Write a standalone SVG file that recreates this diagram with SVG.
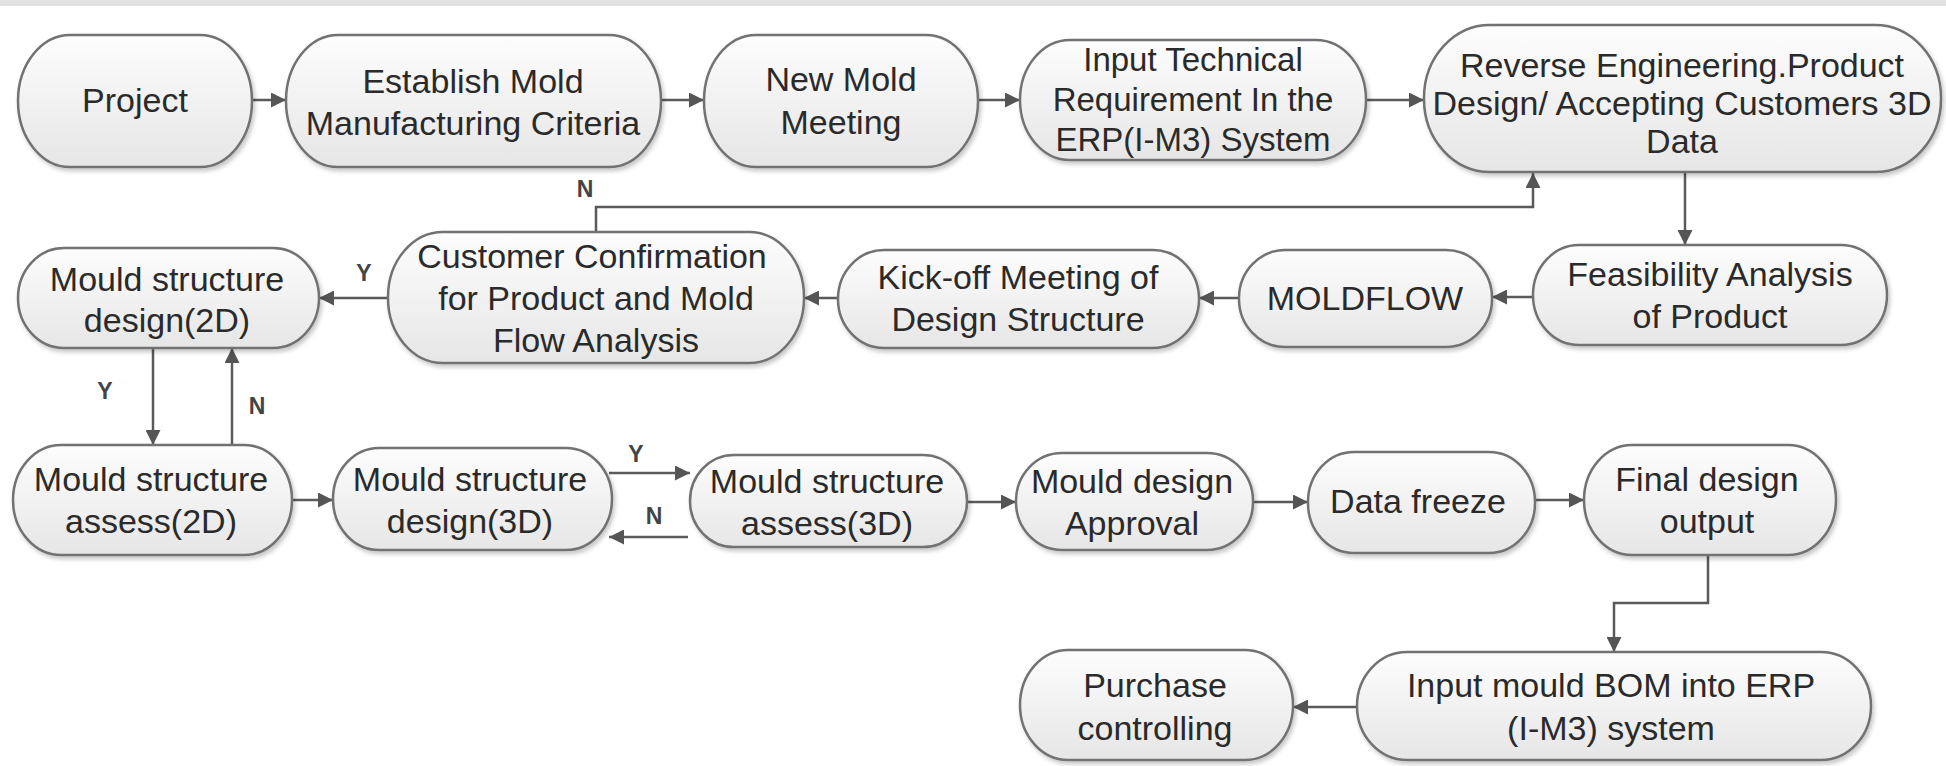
<svg xmlns="http://www.w3.org/2000/svg" width="1946" height="766" viewBox="0 0 1946 766">
<defs>
<linearGradient id="g" x1="0" y1="0" x2="0" y2="1">
<stop offset="0" stop-color="#fdfdfd"/>
<stop offset="1" stop-color="#e6e6e6"/>
</linearGradient>
<filter id="sh" x="-10%" y="-10%" width="125%" height="135%">
<feDropShadow dx="2" dy="3" stdDeviation="2" flood-color="#000" flood-opacity="0.22"/>
</filter>
<marker id="ah" viewBox="0 0 10 10" refX="10" refY="5" markerWidth="15" markerHeight="15" markerUnits="userSpaceOnUse" orient="auto">
<path d="M0,0 L10,5 L0,10 z" fill="#555"/>
</marker>
<style>
.n{fill:url(#g);stroke:#727272;stroke-width:2.5;filter:url(#sh)}
.t{font-family:"Liberation Sans",Arial,sans-serif;font-size:34px;fill:#2a2a2a;text-anchor:middle}
.c{fill:none;stroke:#5a5a5a;stroke-width:2.5}
.a{marker-end:url(#ah)}
.l{font-family:"Liberation Sans",Arial,sans-serif;font-size:23px;font-weight:bold;fill:#444;text-anchor:middle}
</style>
</defs>
<rect x="0" y="0" width="1946" height="766" fill="#fff"/>
<rect x="0" y="0" width="1946" height="6" fill="#e2e2e2"/>

<g id="connectors">
<path class="c a" d="M252,100 H286"/>
<path class="c a" d="M661,100 H704"/>
<path class="c a" d="M978,100 H1020"/>
<path class="c a" d="M1366,100 H1424"/>
<path class="c a" d="M1685,172 V245"/>
<path class="c a" d="M1533,297 H1492"/>
<path class="c a" d="M1239,298 H1199"/>
<path class="c a" d="M838,298 H804"/>
<path class="c a" d="M388,298 H319"/>
<path class="c a" d="M596,232 V207 H1533 V173"/>
<path class="c a" d="M153,348 V445"/>
<path class="c a" d="M232,445 V348"/>
<path class="c a" d="M292,500 H333"/>
<path class="c a" d="M609,473 H690"/>
<path class="c a" d="M688,537 H609"/>
<path class="c a" d="M967,502 H1016"/>
<path class="c a" d="M1253,502 H1308"/>
<path class="c a" d="M1535,500 H1584"/>
<path class="c a" d="M1708,555 V603 H1614 V652"/>
<path class="c a" d="M1357,707 H1293"/>
<text class="l" x="364" y="281">Y</text>
<text class="l" x="585" y="197">N</text>
<text class="l" x="105" y="399">Y</text>
<text class="l" x="257" y="414">N</text>
<text class="l" x="636" y="462">Y</text>
<text class="l" x="654" y="524">N</text>
</g>

<g id="project">
<rect class="n" x="18" y="35" width="234" height="132" rx="52" ry="66"/>
<text class="t" x="135" y="112">Project</text>
</g>
<g id="establish">
<rect class="n" x="286" y="35" width="375" height="132" rx="52" ry="66"/>
<text class="t"><tspan x="473" y="93">Establish Mold</tspan><tspan x="473" y="135">Manufacturing Criteria</tspan></text>
</g>
<g id="newmold">
<rect class="n" x="704" y="35" width="274" height="132" rx="52" ry="66"/>
<text class="t"><tspan x="841" y="91">New Mold</tspan><tspan x="841" y="134">Meeting</tspan></text>
</g>
<g id="inputtech">
<rect class="n" x="1020" y="40" width="346" height="120" rx="50" ry="60"/>
<text class="t" style="font-size:33px"><tspan x="1193" y="71">Input Technical</tspan><tspan x="1193" y="111">Requirement In the</tspan><tspan x="1193" y="151">ERP(I-M3) System</tspan></text>
</g>
<g id="reverse">
<rect class="n" x="1424" y="25" width="517" height="147" rx="66" ry="73"/>
<text class="t"><tspan x="1682" y="77">Reverse Engineering.Product</tspan><tspan x="1682" y="115">Design/ Accepting Customers 3D</tspan><tspan x="1682" y="153">Data</tspan></text>
</g>
<g id="feasibility">
<rect class="n" x="1533" y="245" width="354" height="100" rx="46" ry="50"/>
<text class="t"><tspan x="1710" y="286">Feasibility Analysis</tspan><tspan x="1710" y="328">of Product</tspan></text>
</g>
<g id="moldflow">
<rect class="n" x="1239" y="250" width="253" height="97" rx="46" ry="48"/>
<text class="t" x="1365" y="310">MOLDFLOW</text>
</g>
<g id="kickoff">
<rect class="n" x="838" y="250" width="361" height="98" rx="46" ry="49"/>
<text class="t"><tspan x="1018" y="289">Kick-off Meeting of</tspan><tspan x="1018" y="331">Design Structure</tspan></text>
</g>
<g id="customer">
<rect class="n" x="388" y="232" width="416" height="131" rx="55" ry="65"/>
<text class="t"><tspan x="592" y="268">Customer Confirmation</tspan><tspan x="596" y="310">for Product and Mold</tspan><tspan x="596" y="352">Flow Analysis</tspan></text>
</g>
<g id="design2d">
<rect class="n" x="18" y="248" width="301" height="100" rx="46" ry="50"/>
<text class="t"><tspan x="167" y="291">Mould structure</tspan><tspan x="167" y="332">design(2D)</tspan></text>
</g>
<g id="assess2d">
<rect class="n" x="13" y="445" width="279" height="110" rx="48" ry="55"/>
<text class="t"><tspan x="151" y="491">Mould structure</tspan><tspan x="151" y="533">assess(2D)</tspan></text>
</g>
<g id="design3d">
<rect class="n" x="333" y="448" width="279" height="102" rx="46" ry="51"/>
<text class="t"><tspan x="470" y="491">Mould structure</tspan><tspan x="470" y="533">design(3D)</tspan></text>
</g>
<g id="assess3d">
<rect class="n" x="690" y="455" width="277" height="92" rx="44" ry="46"/>
<text class="t"><tspan x="827" y="493">Mould structure</tspan><tspan x="827" y="535">assess(3D)</tspan></text>
</g>
<g id="approval">
<rect class="n" x="1016" y="453" width="237" height="97" rx="46" ry="48"/>
<text class="t"><tspan x="1132" y="493">Mould design</tspan><tspan x="1132" y="535">Approval</tspan></text>
</g>
<g id="datafreeze">
<rect class="n" x="1308" y="452" width="227" height="101" rx="46" ry="50"/>
<text class="t" x="1418" y="513">Data freeze</text>
</g>
<g id="final">
<rect class="n" x="1584" y="445" width="252" height="110" rx="48" ry="55"/>
<text class="t"><tspan x="1707" y="491">Final design</tspan><tspan x="1707" y="533">output</tspan></text>
</g>
<g id="inputbom">
<rect class="n" x="1357" y="652" width="514" height="108" rx="50" ry="54"/>
<text class="t"><tspan x="1611" y="697">Input mould BOM into ERP</tspan><tspan x="1611" y="740">(I-M3) system</tspan></text>
</g>
<g id="purchase">
<rect class="n" x="1020" y="650" width="273" height="110" rx="48" ry="55"/>
<text class="t"><tspan x="1155" y="697">Purchase</tspan><tspan x="1155" y="740">controlling</tspan></text>
</g>
</svg>
